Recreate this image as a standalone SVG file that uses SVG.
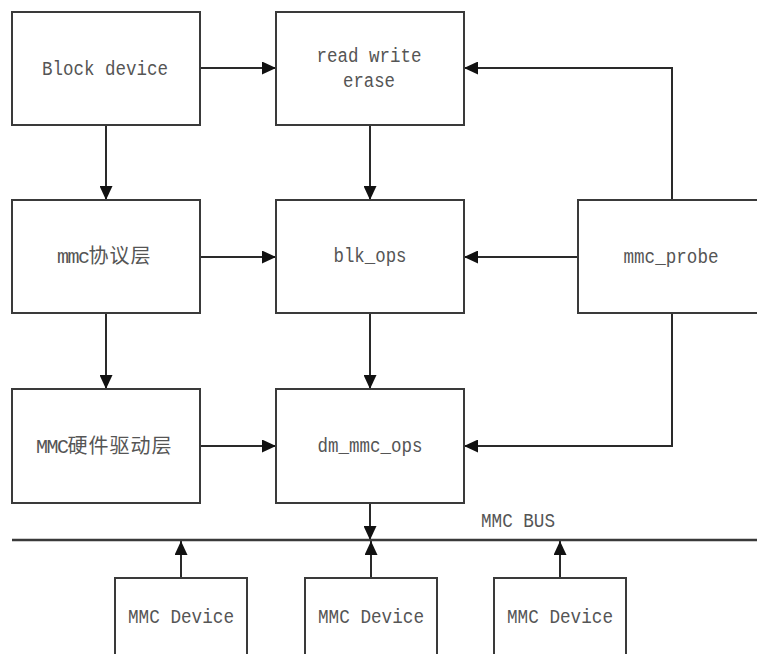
<svg xmlns="http://www.w3.org/2000/svg" width="757" height="654" viewBox="0 0 757 654">
  <style>
    .box { fill: #ffffff; stroke: #3a3a3a; stroke-width: 2; }
    .wire { fill: none; stroke: #2a2a2a; stroke-width: 2; }
    .bus { fill: none; stroke: #3a3a3a; stroke-width: 2.5; }
    .lbl { font-family: "Liberation Mono", "DejaVu Sans Mono", monospace; font-size: 20px; fill: #555555; }
    .mix { font-family: "Liberation Mono", "Noto Sans CJK SC", monospace; font-size: 20px; fill: #555555; }
    .asc { letter-spacing: -1.5px; }
    .cjk { font-family: "Noto Sans CJK SC", sans-serif; font-size: 20px; letter-spacing: 1px; }
    .mid { text-anchor: middle; }
  </style>
  <defs>
    <marker id="arrow" markerUnits="userSpaceOnUse" markerWidth="14" markerHeight="13" refX="14" refY="6.5" orient="auto">
      <path d="M0,0 L14,6.5 L0,13 z" fill="#111111"/>
    </marker>
  </defs>

  <rect width="757" height="654" fill="#ffffff"/>

  <!-- connectors -->
  <g id="connectors">
    <path class="wire" d="M200,68 H276" marker-end="url(#arrow)"/>
    <path class="wire" d="M106,125 V200" marker-end="url(#arrow)"/>
    <path class="wire" d="M370,125 V200" marker-end="url(#arrow)"/>
    <path class="wire" d="M200,257 H276" marker-end="url(#arrow)"/>
    <path class="wire" d="M578,257 H464" marker-end="url(#arrow)"/>
    <path class="wire" d="M672,200 V68 H464" marker-end="url(#arrow)"/>
    <path class="wire" d="M106,313 V389" marker-end="url(#arrow)"/>
    <path class="wire" d="M370,313 V389" marker-end="url(#arrow)"/>
    <path class="wire" d="M200,446 H276" marker-end="url(#arrow)"/>
    <path class="wire" d="M672,313 V446 H464" marker-end="url(#arrow)"/>
    <path class="wire" d="M370,503 V540" marker-end="url(#arrow)"/>
    <path class="wire" d="M181,578 V541" marker-end="url(#arrow)"/>
    <path class="wire" d="M371,578 V541" marker-end="url(#arrow)"/>
    <path class="wire" d="M560,578 V541" marker-end="url(#arrow)"/>
  </g>

  <!-- MMC bus -->
  <g id="mmc-bus">
    <path class="bus" d="M12,540 H757"/>
    <text class="lbl mid" x="518" y="527" textLength="74" lengthAdjust="spacingAndGlyphs">MMC BUS</text>
  </g>

  <g id="block-device">
    <rect class="box" x="12" y="12" width="188" height="113"/>
    <text class="lbl mid" x="105" y="75" textLength="126" lengthAdjust="spacingAndGlyphs">Block device</text>
  </g>

  <g id="read-write-erase">
    <rect class="box" x="276" y="12" width="188" height="113"/>
    <text class="lbl mid" x="369" y="62" textLength="105" lengthAdjust="spacingAndGlyphs">read write</text>
    <text class="lbl mid" x="369" y="87" textLength="52" lengthAdjust="spacingAndGlyphs">erase</text>
  </g>

  <g id="mmc-protocol">
    <rect class="box" x="12" y="200" width="188" height="113"/>
    <text class="mix" x="57" y="263"><tspan class="asc">mmc</tspan><tspan class="cjk">协议层</tspan></text>
  </g>

  <g id="blk-ops">
    <rect class="box" x="276" y="200" width="188" height="113"/>
    <text class="lbl mid" x="370" y="262" textLength="73" lengthAdjust="spacingAndGlyphs">blk_ops</text>
  </g>

  <g id="mmc-probe">
    <rect class="box" x="578" y="200" width="188" height="113"/>
    <text class="lbl mid" x="671" y="263" textLength="95" lengthAdjust="spacingAndGlyphs">mmc_probe</text>
  </g>

  <g id="mmc-hw-driver">
    <rect class="box" x="12" y="389" width="188" height="114"/>
    <text class="mix" x="36" y="453"><tspan class="asc">MMC</tspan><tspan class="cjk">硬件驱动层</tspan></text>
  </g>

  <g id="dm-mmc-ops">
    <rect class="box" x="276" y="389" width="188" height="114"/>
    <text class="lbl mid" x="370" y="452" textLength="105" lengthAdjust="spacingAndGlyphs">dm_mmc_ops</text>
  </g>

  <g id="mmc-device-1">
    <rect class="box" x="115" y="578" width="132" height="90"/>
    <text class="lbl mid" x="181" y="623" textLength="106" lengthAdjust="spacingAndGlyphs">MMC Device</text>
  </g>

  <g id="mmc-device-2">
    <rect class="box" x="305" y="578" width="132" height="90"/>
    <text class="lbl mid" x="371" y="623" textLength="106" lengthAdjust="spacingAndGlyphs">MMC Device</text>
  </g>

  <g id="mmc-device-3">
    <rect class="box" x="494" y="578" width="132" height="90"/>
    <text class="lbl mid" x="560" y="623" textLength="106" lengthAdjust="spacingAndGlyphs">MMC Device</text>
  </g>
</svg>
